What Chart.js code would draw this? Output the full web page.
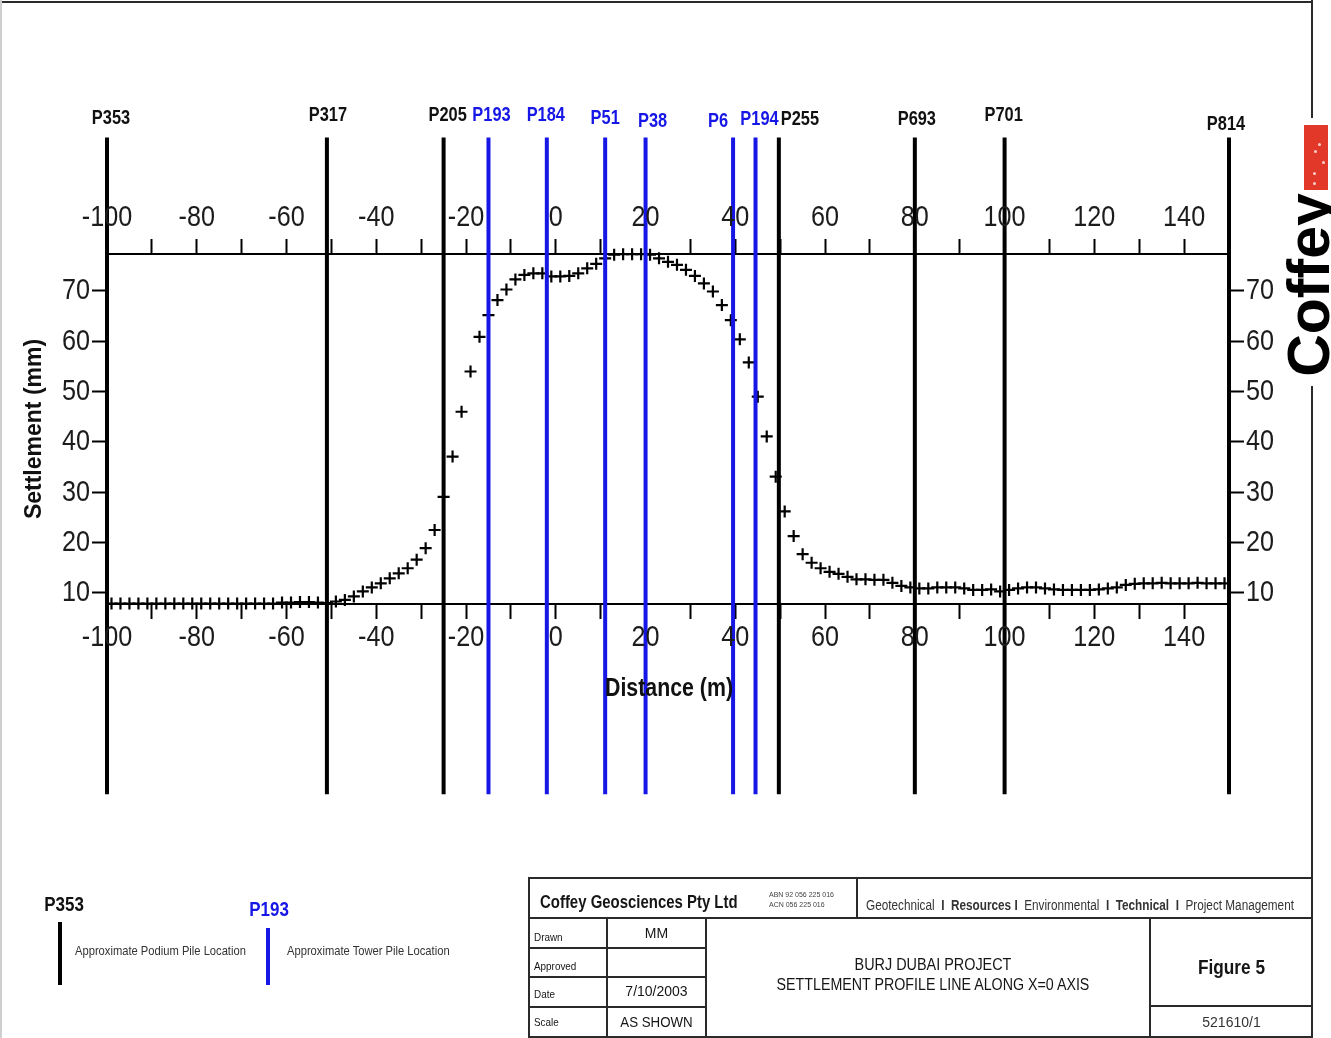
<!DOCTYPE html>
<html>
<head>
<meta charset="utf-8">
<title>Burj Dubai Project - Settlement Profile</title>
<script src="https://cdn.jsdelivr.net/npm/chart.js@4.4.1/dist/chart.umd.min.js"></script>
<style>
  html, body { margin: 0; padding: 0; background: #fff; }
  body {
    width: 1331px; height: 1038px; position: relative; overflow: hidden;
    font-family: 'Liberation Sans', Arial, sans-serif;
    color: #151515;
  }
  #chartBox { position: absolute; left: 0; top: 0; width: 1331px; height: 1038px; }
  .ln { position: absolute; background: #2a2a2a; }
  .t { position: absolute; white-space: nowrap; }
  .c { text-align: center; }
  .nl { transform-origin: 0 50%; }
  .nc { transform-origin: 50% 50%; }
  .logoText {
    position: absolute; left: 1214px; top: 255px; width: 190px; height: 60px;
    line-height: 60px; text-align: center;
    font-weight: bold; font-size: 59px; color: #000; transform: rotate(-90deg);
  }
  .dot { position: absolute; width: 3px; height: 3px; border-radius: 50%; background: #f6d0c8; }
</style>
</head>
<body>
<div id="chartBox"><canvas id="chart" width="1331" height="1038"></canvas></div>

<!-- page frame -->
<div class="ln" style="left:0;top:1px;width:1313px;height:2px;"></div>
<div class="ln" style="left:0;top:0;width:2px;height:1038px;background:#cfcfcf;"></div>
<div class="ln" style="left:1311px;top:0;width:2px;height:118px;"></div>
<div class="ln" style="left:1311px;top:386px;width:2px;height:652px;"></div>

<!-- company mark -->
<div style="position:absolute;left:1304px;top:125px;width:24px;height:65px;background:#e2382a;"></div>
<div class="dot" style="left:1314px;top:150px;"></div>
<div class="dot" style="left:1318px;top:143px;"></div>
<div class="dot" style="left:1322px;top:161px;"></div>
<div class="dot" style="left:1313px;top:172px;"></div>
<div class="dot" style="left:1313px;top:182px;"></div>
<div class="logoText">Coffey</div>

<!-- legend -->
<div class="t c nc" style="left:24px;width:80px;top:892px;font-weight:bold;font-size:20px;line-height:24px;color:#111;transform:scaleX(0.85);">P353</div>
<div class="ln" style="left:58px;top:922px;width:4px;height:63px;background:#000;"></div>
<div class="t nl" style="left:75px;top:943px;font-size:13px;line-height:16px;color:#333;transform:scaleX(0.86);">Approximate Podium Pile Location</div>
<div class="t c nc" style="left:229px;width:80px;top:897px;font-weight:bold;font-size:20px;line-height:24px;color:#1616e6;transform:scaleX(0.85);">P193</div>
<div class="ln" style="left:266px;top:928px;width:4px;height:57px;background:#1616e6;"></div>
<div class="t nl" style="left:287px;top:943px;font-size:13px;line-height:16px;color:#333;transform:scaleX(0.86);">Approximate Tower Pile Location</div>

<!-- title block -->
<div class="ln" style="left:528px;top:877px;width:785px;height:2px;"></div>
<div class="ln" style="left:528px;top:877px;width:2px;height:161px;"></div>
<div class="ln" style="left:528px;top:917px;width:785px;height:2px;"></div>
<div class="ln" style="left:528px;top:1036px;width:785px;height:2px;"></div>
<div class="ln" style="left:856px;top:877px;width:2px;height:41px;"></div>
<div class="ln" style="left:606px;top:918px;width:2px;height:120px;"></div>
<div class="ln" style="left:705px;top:918px;width:2px;height:120px;"></div>
<div class="ln" style="left:1149px;top:918px;width:2px;height:120px;"></div>
<div class="ln" style="left:528px;top:947px;width:178px;height:2px;"></div>
<div class="ln" style="left:528px;top:976px;width:178px;height:2px;"></div>
<div class="ln" style="left:528px;top:1006px;width:178px;height:2px;"></div>
<div class="ln" style="left:1150px;top:1005px;width:163px;height:2px;"></div>

<div class="t nl" style="left:540px;top:890px;font-weight:bold;font-size:18px;line-height:24px;transform:scaleX(0.83);">Coffey Geosciences Pty Ltd</div>
<div class="t nl" style="left:769px;top:890px;font-size:7px;line-height:10px;color:#444;">ABN 92 056 225 016<br>ACN 056 225 016</div>
<div class="t nl" style="left:866px;top:896px;font-size:14px;line-height:18px;color:#333;transform:scaleX(0.84);">Geotechnical&nbsp; <b>I</b>&nbsp; <b>Resources</b> <b>I</b>&nbsp; Environmental&nbsp; <b>I</b>&nbsp; <b>Technical</b>&nbsp; <b>I</b>&nbsp; Project Management</div>

<div class="t nl" style="left:534px;top:929px;font-size:11px;line-height:16px;transform:scaleX(0.9);">Drawn</div>
<div class="t nl" style="left:534px;top:958px;font-size:11px;line-height:16px;transform:scaleX(0.9);">Approved</div>
<div class="t nl" style="left:534px;top:986px;font-size:11px;line-height:16px;transform:scaleX(0.9);">Date</div>
<div class="t nl" style="left:534px;top:1014px;font-size:11px;line-height:16px;transform:scaleX(0.9);">Scale</div>
<div class="t c" style="left:607px;width:99px;top:924px;font-size:14px;line-height:18px;">MM</div>
<div class="t c" style="left:607px;width:99px;top:982px;font-size:14px;line-height:18px;">7/10/2003</div>
<div class="t c nc" style="left:607px;width:99px;top:1013px;font-size:14px;line-height:18px;transform:scaleX(0.95);">AS SHOWN</div>

<div class="t c nc" style="left:706px;width:454px;top:955px;font-size:16px;line-height:20px;transform:scaleX(0.9);">BURJ DUBAI PROJECT</div>
<div class="t c nc" style="left:706px;width:454px;top:975px;font-size:16px;line-height:20px;transform:scaleX(0.89);">SETTLEMENT PROFILE LINE ALONG X=0 AXIS</div>
<div class="t c nc" style="left:1150px;width:163px;top:954px;font-weight:bold;font-size:21px;line-height:26px;transform:scaleX(0.82);">Figure 5</div>
<div class="t c" style="left:1150px;width:163px;top:1013px;font-size:14px;line-height:18px;color:#333;">521610/1</div>

<script>
// Surveyed settlement profile along the X=0 axis
const distance = [
  -99, -97, -95, -93, -91, -89, -87, -85, -83, -81, -79, -77, -75, -73, -71, -69, -67, -65, -63,
  -61, -59, -57, -55, -53, -51, -49, -47, -45, -43, -41, -39, -37, -35, -33, -31, -29, -27,
  -25, -23, -21, -19, -17, -15, -13, -11, -9, -7, -5, -3, -1,
  1, 3, 5, 7, 9, 11, 13, 15, 17, 19, 21, 23, 25, 27, 29, 31, 33, 35, 37, 39, 41, 43, 45, 47, 49,
  51, 53, 55, 57, 59, 61, 63, 65, 67, 69, 71, 73, 75, 77, 79,
  81, 83, 85, 87, 89, 91, 93, 95, 97, 99, 101, 103, 105, 107, 109, 111, 113, 115, 117, 119, 121, 123, 125, 127, 129,
  131, 133, 135, 137, 139, 141, 143, 145, 147, 149
];
const settlement = [
  7.9, 7.9, 7.9, 7.9, 7.9, 7.9, 7.9, 7.9, 7.9, 7.9, 7.9, 7.9, 7.9, 7.9, 7.9, 7.9, 7.9, 7.9, 7.9,
  8.1, 8.1, 8.2, 8.2, 8.1, 8.0, 8.3, 8.6, 9.3, 10.3, 11.1, 11.9, 12.9, 13.9, 14.9, 16.6, 18.9, 22.5,
  29.1, 37.1, 46.0, 54.0, 60.9, 65.2, 68.2, 70.3, 72.3, 73.2, 73.5, 73.5, 72.9,
  72.9, 73.0, 73.5, 74.5, 75.4, 76.5, 77.2, 77.3, 77.3, 77.3, 77.2, 76.5, 75.8, 75.2, 74.2, 73.0, 71.5, 69.9, 67.2, 64.2, 60.4, 55.8, 49.0, 41.1, 33.1,
  26.2, 21.3, 17.7, 16.0, 14.9, 14.2, 13.8, 13.2, 12.7, 12.7, 12.6, 12.6, 12.0, 11.4, 11.1,
  10.9, 10.9, 11.1, 11.1, 11.1, 10.9, 10.6, 10.6, 10.7, 10.3, 10.6, 10.9, 11.1, 11.1, 10.9, 10.7, 10.6, 10.6, 10.6, 10.6, 10.7, 10.9, 11.1, 11.6, 11.8,
  11.9, 11.9, 12.0, 11.9, 11.9, 11.9, 12.0, 11.9, 11.9, 11.9
];

// Pile locations crossed by the section line
const pileNames    = ['P353', 'P317', 'P205', 'P193', 'P184', 'P51', 'P38', 'P6', 'P194', 'P255', 'P693', 'P701', 'P814'];
const pileDistance = [-100, -51, -25, -15, -2, 11, 20, 39.5, 44.5, 49.7, 80, 100, 150];
const pileKind     = ['podium', 'podium', 'podium', 'tower', 'tower', 'tower', 'tower', 'tower', 'tower', 'podium', 'podium', 'podium', 'podium'];
const pileTop = 100.5;     // settlement-axis units
const pileBottom = -30;

// Axis ticks
const xTickValues = [-100, -90, -80, -70, -60, -50, -40, -30, -20, -10, 0, 10, 20, 30, 40, 50, 60, 70, 80, 90, 100, 110, 120, 130, 140, 150];
const xTickLabels = [-100, -80, -60, -40, -20, 0, 20, 40, 60, 80, 100, 120, 140];
const yTickValues = [10, 20, 30, 40, 50, 60, 70];
const xRange = [-100, 150];
const yRange = [7.8, 77.35];

const SANS = "'Liberation Sans', Arial, sans-serif";
const SQUEEZE = 0.84;          // horizontal compression of the drawing lettering
const PODIUM_BLACK = '#000000';
const TOWER_BLUE = '#1616e6';
const TEXT = '#1c1c1c';
const TICK_LEN = 15;

// small offsets that keep neighbouring pile names apart
const labelNudge = {
  P353: [4, 0], P317: [1, -3], P205: [4, -3], P193: [3, -3], P184: [-1, -3], P51: [0, 0],
  P38: [7, 3], P6: [-15, 3], P194: [4, 1], P255: [21, 1], P693: [2, 1], P701: [-1, -3], P814: [-3, 6]
};

function squeezedText(ctx, text, x, y, align, baseline, sx) {
  ctx.save();
  ctx.translate(x, y);
  ctx.scale(sx, 1);
  ctx.textAlign = align;
  ctx.textBaseline = baseline;
  ctx.fillText(text, 0, 0);
  ctx.restore();
}

// Tick numbers, axis name and pile names in the narrow drawing lettering
const drawingLettering = {
  id: 'drawingLettering',
  afterDraw(chart) {
    const { ctx, scales, chartArea } = chart;
    ctx.save();
    ctx.fillStyle = TEXT;
    ctx.font = '30px ' + SANS;
    xTickLabels.forEach(v => {
      const px = scales.x.getPixelForValue(v);
      squeezedText(ctx, String(v), px, scales.x.top + TICK_LEN + 19, 'center', 'middle', SQUEEZE);
      squeezedText(ctx, String(v), px, scales.x2.bottom - TICK_LEN - 21, 'center', 'middle', SQUEEZE);
    });
    yTickValues.forEach(v => {
      const py = scales.y.getPixelForValue(v);
      squeezedText(ctx, String(v), scales.y.right - TICK_LEN - 2, py, 'right', 'middle', SQUEEZE);
      squeezedText(ctx, String(v), scales.y2.left + TICK_LEN + 2, py, 'left', 'middle', SQUEEZE);
    });

    ctx.fillStyle = '#111';
    ctx.font = 'bold 26px ' + SANS;
    squeezedText(ctx, 'Distance (m)', (chartArea.left + chartArea.right) / 2 + 1, scales.x.top + 85,
      'center', 'middle', 0.82);

    ctx.font = 'bold 20px ' + SANS;
    pileNames.forEach((name, i) => {
      const n = labelNudge[name] || [0, 0];
      const px = scales.x.getPixelForValue(pileDistance[i]) + n[0];
      const py = scales.y.getPixelForValue(pileTop) - 14 + n[1];
      ctx.fillStyle = pileKind[i] === 'tower' ? TOWER_BLUE : '#111';
      squeezedText(ctx, name, px, py, 'center', 'alphabetic', 0.82);
    });
    ctx.restore();
  }
};

const pileDatasets = pileNames.map((name, i) => ({
  type: 'line',
  label: name,
  data: [{ x: pileDistance[i], y: pileBottom }, { x: pileDistance[i], y: pileTop }],
  borderColor: pileKind[i] === 'tower' ? TOWER_BLUE : PODIUM_BLACK,
  borderWidth: 4,
  borderCapStyle: 'butt',
  pointRadius: 0,
  showLine: true,
  clip: false,
  order: 1
}));

const profileDataset = {
  type: 'scatter',
  label: 'Settlement',
  data: distance.map((d, i) => ({ x: d, y: settlement[i] })),
  pointStyle: 'cross',
  pointRadius: 6,
  pointBorderWidth: 2.2,
  borderColor: '#000',
  backgroundColor: '#000',
  showLine: false,
  clip: false,
  order: 2
};

const tickGrid = { drawOnChartArea: false, drawTicks: true, tickLength: TICK_LEN, tickWidth: 2, tickColor: '#000', color: '#000' };
const axisBorder = { display: true, color: '#000', width: 2 };

function xAxis(position, height) {
  return {
    type: 'linear',
    position,
    min: xRange[0], max: xRange[1],
    afterBuildTicks: s => { s.ticks = xTickValues.map(v => ({ value: v })); },
    afterFit: s => { s.height = height; },
    ticks: { display: false, autoSkip: false },
    grid: tickGrid,
    border: axisBorder
  };
}

function yAxis(position, width, title) {
  return {
    type: 'linear',
    position,
    min: yRange[0], max: yRange[1],
    afterBuildTicks: s => { s.ticks = yTickValues.map(v => ({ value: v })); },
    afterFit: s => { s.width = width; },
    ticks: { display: false },
    grid: tickGrid,
    border: axisBorder,
    title: title || { display: false }
  };
}

new Chart(document.getElementById('chart'), {
  type: 'scatter',
  data: { datasets: [...pileDatasets, profileDataset] },
  options: {
    responsive: false,
    devicePixelRatio: 1,
    animation: false,
    events: [],
    layout: { padding: 0 },
    plugins: { legend: { display: false }, tooltip: { enabled: false } },
    scales: {
      x: xAxis('bottom', 434),
      x2: xAxis('top', 254),
      y: yAxis('left', 107, {
        display: true, text: 'Settlement (mm)', color: '#111',
        font: { family: SANS, size: 23, weight: 'bold' },
        padding: { top: 21, bottom: 0 }
      }),
      y2: yAxis('right', 102)
    }
  },
  plugins: [drawingLettering]
});
</script>
</body>
</html>
